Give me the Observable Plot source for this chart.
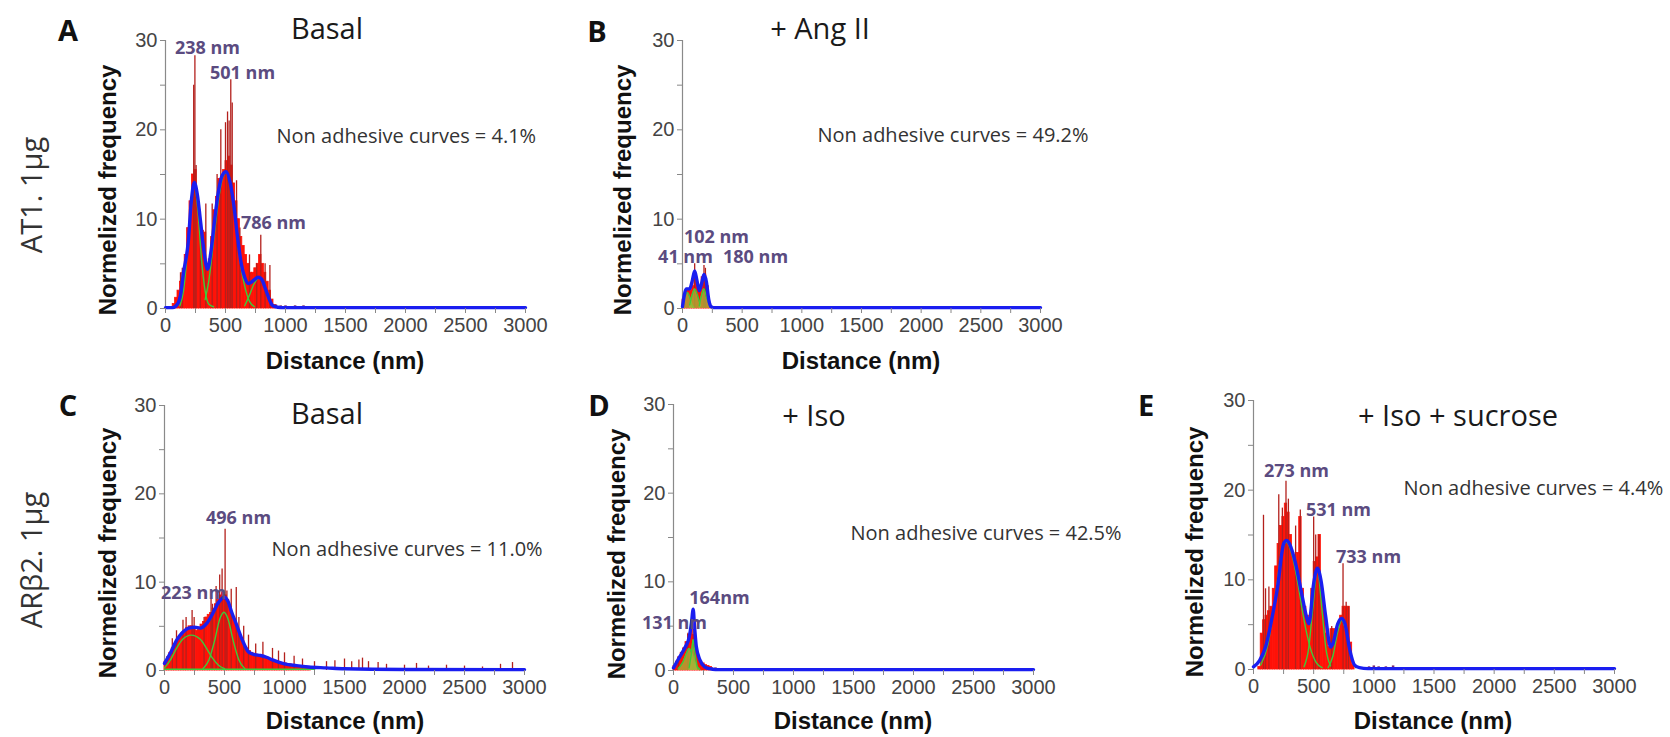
<!DOCTYPE html>
<html>
<head>
<meta charset="utf-8">
<script src="https://cdn.jsdelivr.net/npm/d3@7"></script>
<script src="https://cdn.jsdelivr.net/npm/@observablehq/plot@0.6"></script>
<style>
  html, body { margin: 0; padding: 0; background: #fff; }
  #wrap { position: relative; width: 1670px; height: 737px; overflow: hidden; background: #fff; }
  .lbl { position: absolute; white-space: nowrap; transform: translate(-50%, -50%); line-height: 1; }
</style>
</head>
<body>
<div id="wrap"></div>
<script>
// ---------- shared axis data ----------
const xTicks = [0, 250, 500, 750, 1000, 1250, 1500, 1750, 2000, 2250, 2500, 2750, 3000];
const yTicks = [0, 5, 10, 15, 20, 25, 30];
const binWidth = 20; // nm, histogram bin width

// ---------- Panel A : AT1 basal ----------
const histA = [[60,0.5],[80,1.2],[100,2],[120,3],[140,4],[160,6],[180,9],[200,12],[220,15],[240,15.5],[260,12],[280,9.5],[300,8.7],[320,8.5],[340,5],[360,5.5],[380,8],[400,11],[420,12.5],[440,14.5],[460,14.5],[480,15.5],[500,16.5],[520,17],[540,16],[560,14],[580,12],[600,10],[620,8],[640,7],[660,6],[680,5],[700,4],[720,4],[740,4.5],[760,5],[780,6],[800,5],[820,4],[840,3],[860,2],[880,1],[900,0.4]];
const spikesA = [[125,4],[140,4.5],[235,25],[245,28.3],[255,16],[290,11],[336,11.7],[389,11.7],[430,15],[461,20],[500,20.8],[517,22],[530,21],[544,25.6],[556,23],[592,14.3],[620,9],[700,6],[760,5],[794,8.2],[830,5],[870,4.8]];
const tailA = [[920,0.4],[960,0.3],[1000,0.3],[1040,0.2],[1080,0.3],[1120,0.2],[1150,0.3]];
const fitA = [[0,0.1],[60,0.1],[100,0.5],[125,1.5],[150,4],[190,7.5],[215,12],[240,14.1],[265,12.8],[290,10],[320,6.5],[350,4.4],[380,6.5],[410,10],[440,13],[470,14.8],[505,15.3],[540,14],[570,11.5],[600,8],[633,4.9],[660,3.5],[690,2.8],[730,3.1],[772,3.5],[800,3.3],[830,2.3],[860,1.2],[885,0.45],[911,0.2],[960,0.1],[3000,0.1]];
const compsA = [
  [[120,0.3],[150,2],[180,6],[210,11.5],[240,14],[270,11],[300,5.5],[330,2],[360,0.5],[400,0.2]],
  [[330,1],[360,3],[400,7.5],[440,12],[480,14.8],[505,15.2],[540,14],[580,10],[620,5.5],[660,2.5],[700,0.8],[740,0.2]],
  [[660,0.3],[700,1.5],[740,2.8],[786,3.5],[820,2.8],[860,1.2],[900,0.3]]
];
const peaksA = ["238 nm", "501 nm", "786 nm"];
const noteA = "Non adhesive curves = 4.1%";

// ---------- Panel B : AT1 + Ang II ----------
const histB = [[0,1],[20,2],[40,2.2],[60,2],[80,2.5],[100,3.5],[120,2.5],[140,2],[160,3.5],[180,3.8],[200,2.5],[220,0.5]];
const spikesB = [[102,5],[180,4.8],[192,4.5]];
const tailB = [];
const fitB = [[0,0.2],[15,1.5],[30,2.2],[60,2.2],[80,3],[102,4.2],[120,3.2],[140,2],[160,2.8],[180,3.8],[200,3],[220,1],[240,0.2],[260,0.1],[3000,0.1]];
const compsB = [
  [[0,0.2],[20,1.3],[41,1.8],[60,1.3],[80,0.4],[95,0.1]],
  [[60,0.4],[80,1.5],[102,2.2],[125,1.5],[150,0.3]],
  [[140,0.3],[160,1.5],[180,2.2],[200,1.3],[230,0.2]]
];
const peaksB = ["102 nm", "41 nm", "180 nm"];
const noteB = "Non adhesive curves = 49.2%";

// ---------- Panel C : ARβ2 basal ----------
const histC = [[0,1],[20,1.5],[40,2],[60,2.5],[80,3],[100,3.3],[120,3.8],[140,4.2],[160,4.5],[180,4.8],[200,5],[220,5],[240,4.8],[260,4.5],[280,4.8],[300,5.2],[320,5.5],[340,6],[360,6.3],[380,6.5],[400,7],[420,7.5],[440,8],[460,8.5],[480,8.8],[500,8.5],[520,8],[540,7.2],[560,6.2],[580,5.5],[600,4.6],[620,4],[640,3.4],[660,2.9],[680,2.5],[700,2.2],[720,2],[740,1.9],[760,1.8],[780,1.7],[800,1.6],[820,1.5],[840,1.4],[860,1.3],[880,1.2],[900,1.1],[920,1],[940,0.9],[960,0.9],[980,0.8],[1000,0.8],[1020,0.7],[1040,0.7],[1060,0.6],[1080,0.6],[1100,0.5],[1120,0.5],[1140,0.5],[1160,0.4],[1180,0.4],[1200,0.4]];
const spikesC = [[65,3.6],[100,4.5],[154,5.7],[180,6],[230,6.8],[247,6],[330,6],[388,8.1],[400,7.5],[430,9.5],[460,10.8],[480,11.5],[505,16],[520,9],[556,9.2],[598,9.4],[620,6],[660,5],[700,4],[760,3],[820,3.2],[900,2.5],[950,2.2],[1000,2],[1080,1.6],[1150,1.3],[1250,1],[1350,1],[1420,1.1],[1500,1.3],[1560,1],[1620,1.2],[1650,1.4],[1700,1],[1780,0.9],[1850,0.7],[2000,0.6],[2100,0.8],[2200,0.5],[2350,0.6],[2500,0.5],[2650,0.4],[2800,0.7],[2900,0.9]];
const tailC = [];
const fitC = [[0,0.8],[50,2],[100,3.4],[150,4.3],[200,4.8],[250,4.9],[300,4.8],[350,5.3],[400,6.4],[450,7.7],[496,8.3],[530,7.8],[560,6.6],[600,5.2],[650,3.4],[700,2.1],[750,1.8],[800,1.7],[850,1.5],[900,1.2],[1000,0.75],[1100,0.55],[1200,0.4],[1350,0.3],[1500,0.2],[2000,0.12],[3000,0.1]];
const compsC = [
  [[0,0.3],[50,1.2],[100,2.5],[150,3.5],[223,4],[300,3.5],[350,2.5],[400,1.4],[450,0.6],[500,0.2]],
  [[320,0.2],[370,1.2],[420,3.5],[460,5.8],[496,6.6],[530,5.8],[570,3.5],[620,1.2],[670,0.2]],
  [[0,0.15],[1250,0.15]]
];
const peaksC = ["496 nm", "223 nm"];
const noteC = "Non adhesive curves = 11.0%";

// ---------- Panel D : ARβ2 + Iso ----------
const histD = [[0,0.5],[20,1],[40,1.5],[60,2],[80,2.5],[100,3.2],[120,4],[140,4.6],[160,4],[180,2.5],[200,1.5],[220,1],[240,0.8],[260,0.6],[280,0.5],[300,0.4]];
const spikesD = [[40,1.5],[120,4.2],[164,7]];
const tailD = [[320,0.3],[350,0.3],[380,0.2],[420,0.2],[460,0.2],[500,0.15]];
const fitD = [[0,0.3],[50,1.5],[100,2.7],[130,3.7],[150,5.4],[164,6.9],[175,5],[190,2.7],[220,1.2],[260,0.4],[300,0.2],[350,0.1],[3000,0.1]];
const compsD = [
  [[40,0.2],[80,1],[110,2],[131,2.5],[150,2],[180,0.8],[220,0.1]],
  [[130,0.3],[150,2],[164,3.5],[178,2],[200,0.3]]
];
const peaksD = ["164nm", "131 nm"];
const noteD = "Non adhesive curves = 42.5%";

// ---------- Panel E : ARβ2 + Iso + sucrose ----------
const histE = [[40,0.3],[60,4],[80,5.5],[100,6],[120,6.5],[140,7],[160,9],[180,11.5],[200,14],[220,16],[240,17],[260,18.5],[280,17.5],[300,15],[320,13],[340,12],[360,13],[380,17],[400,9],[420,7],[440,6],[460,5.5],[480,9],[500,12],[520,12.5],[540,15],[560,9],[580,7],[600,4],[620,2.5],[640,4.5],[660,4.5],[680,4],[700,4.5],[720,6],[740,7],[760,7],[780,7],[800,3],[820,0.5]];
const spikesE = [[83,17.2],[100,9],[128,9.2],[210,19.5],[240,18],[270,21],[290,19],[350,16],[389,17.8],[500,17],[517,15],[544,15],[650,4.8],[744,11.8],[770,7.5],[790,7]];
const tailE = [[960,0.3],[1000,0.4],[1040,0.3],[1100,0.3],[1160,0.4]];
const fitE = [[0,0.3],[50,1],[100,2.5],[150,5.5],[200,9.2],[250,14],[273,14.4],[300,14],[350,11.8],[400,8.5],[440,5.9],[460,5.1],[500,9.6],[531,11.3],[560,10],[600,5.9],[640,2.5],[660,2.9],[700,5.1],[733,5.7],[760,5.1],[800,2.2],[840,0.5],[880,0.2],[950,0.1],[3000,0.1]];
const compsE = [
  [[60,0.5],[120,2.8],[180,8],[230,12.8],[273,14.2],[320,12.8],[370,9.5],[420,5.5],[470,2.5],[520,0.8],[570,0.2]],
  [[420,0.3],[460,2.5],[490,6.5],[531,11],[570,6.5],[600,2.5],[640,0.4]],
  [[620,0.2],[660,1.5],[700,4.2],[733,5.5],[770,4.2],[810,1.5],[850,0.2]]
];
const peaksE = ["273 nm", "531 nm", "733 nm"];
const noteE = "Non adhesive curves = 4.4%";

// ---------- text ----------
const panelLetters = ["A", "B", "C", "D", "E"];
const panelTitles = ["Basal", "+ Ang II", "Basal", "+ Iso", "+ Iso + sucrose"];
const rowLabels = ["AT1. 1µg", "ARβ2. 1µg"];
const xLabel = "Distance (nm)";
const yLabel = "Normelized frequency";

// ---------- layout (pixel frame of each plot, label anchors in data space) ----------
const layout = [
  {hist: histA, spikes: spikesA, tail: tailA, fit: fitA, comps: compsA, peaks: peaksA, note: noteA,
   x0: 165, x1: 525, yt: 40, yb: 308, peakAt: [[350,29.1],[642,26.3],[900,9.5]], noteAt: [925,19.2], compFill: false,
   letter: [68,29], title: [327,27], ylab: [108,190], xlab: [345,361]},
  {hist: histB, spikes: spikesB, tail: tailB, fit: fitB, comps: compsB, peaks: peaksB, note: noteB,
   x0: 682, x1: 1040, yt: 40, yb: 308, peakAt: [[285,7.95],[25,5.7],[612,5.7]], noteAt: [1131,19.4], compFill: true,
   letter: [597,30], title: [820,27], ylab: [623,190], xlab: [861,361]},
  {hist: histC, spikes: spikesC, tail: tailC, fit: fitC, comps: compsC, peaks: peaksC, note: noteC,
   x0: 164, x1: 524, yt: 405, yb: 670, peakAt: [[617,17.2],[242,8.7]], noteAt: [892,13.7], compFill: false,
   letter: [68,404], title: [327,412], ylab: [108,553], xlab: [345,721]},
  {hist: histD, spikes: spikesD, tail: tailD, fit: fitD, comps: compsD, peaks: peaksD, note: noteD,
   x0: 673, x1: 1033, yt: 404, yb: 670, peakAt: [[383,8.1],[8,5.3]], noteAt: [1475,15.4], compFill: true,
   letter: [599,404], title: [814,414], ylab: [617,554], xlab: [853,721]},
  {hist: histE, spikes: spikesE, tail: tailE, fit: fitE, comps: compsE, peaks: peaksE, note: noteE,
   x0: 1253, x1: 1614, yt: 400, yb: 669, peakAt: [[357,22.1],[706,17.8],[956,12.5]], noteAt: [1247,20.2], compFill: false,
   letter: [1146,404], title: [1458,414], ylab: [1195,552], xlab: [1433,721]}
];
const rowLabelAt = [[30,195],[30,560]];

const wrap = document.getElementById("wrap");

function addLabel(text, x, y, css, rotate) {
  const d = document.createElement("div");
  d.className = "lbl";
  d.textContent = text;
  d.style.left = x + "px";
  d.style.top = y + "px";
  Object.assign(d.style, css);
  if (rotate) d.style.transform = "translate(-50%, -50%) rotate(-90deg)";
  wrap.appendChild(d);
}

const ml = 60, mr = 10, mt = 10, mb = 40;
const fx = d => d[0], fy = d => d[1];

layout.forEach((p, i) => {
  const W = p.x1 - p.x0, H = p.yb - p.yt;
  const peakData = p.peaks.map((t, k) => ({t, x: p.peakAt[k][0], y: p.peakAt[k][1]}));
  const marks = [
    Plot.ruleX([0], {stroke: "#8a8a8a", strokeWidth: 1.2}),
    Plot.rectY(p.hist, {x1: fx, x2: d => d[0] + binWidth, y1: 0, y2: fy, fill: "#ff1208", stroke: "#ff1208", strokeWidth: 0.8, inset: 0}),
    Plot.ruleX(p.spikes, {x: fx, y1: 0, y2: fy, stroke: "#b3201c", strokeWidth: 1.3}),
    Plot.ruleX(p.tail, {x: fx, y1: 0, y2: fy, stroke: "#7b2d6e", strokeWidth: 2.5}),
  ];
  p.comps.forEach(c => {
    if (p.compFill) marks.push(Plot.areaY(c, {x: fx, y: fy, fill: "#a6b83a", fillOpacity: 0.75, curve: "monotone-x"}));
    marks.push(Plot.line(c, {x: fx, y: fy, stroke: "#3ccc3a", strokeWidth: 1.4, curve: "monotone-x"}));
  });
  marks.push(
    Plot.line(p.fit, {x: fx, y: fy, stroke: "#1a1ef0", strokeWidth: 3.4, curve: "monotone-x"}),
    Plot.axisX({ticks: xTicks, tickFormat: d => (d % 500 === 0 ? String(d) : ""), tickSize: 5, tickPadding: 4, stroke: "#888", fill: "#444", label: null}),
    Plot.axisY({ticks: yTicks, tickFormat: d => (d % 10 === 0 ? String(d) : ""), tickSize: 5, tickPadding: 3, stroke: "#888", fill: "#444", label: null}),
    Plot.text(peakData, {x: "x", y: "y", text: "t", fontFamily: "Open Sans", fontWeight: 700, fontSize: 18, fill: "#5b4b80"}),
    Plot.text([{t: p.note, x: p.noteAt[0], y: p.noteAt[1]}], {x: "x", y: "y", text: "t", textAnchor: "start", fontFamily: "Open Sans", fontSize: 20, fill: "#333"})
  );
  const svg = Plot.plot({
    width: W + ml + mr, height: H + mt + mb,
    marginLeft: ml, marginRight: mr, marginTop: mt, marginBottom: mb,
    x: {domain: [0, 3000]},
    y: {domain: [0, 30]},
    style: {fontFamily: "'Liberation Sans', Arial, sans-serif", fontSize: "20px", color: "#444", overflow: "visible", background: "transparent"},
    marks
  });
  svg.style.position = "absolute";
  svg.style.left = (p.x0 - ml) + "px";
  svg.style.top = (p.yt - mt) + "px";
  wrap.appendChild(svg);

  addLabel(panelLetters[i], p.letter[0], p.letter[1], {fontFamily: "'Open Sans'", fontWeight: 700, fontSize: "29px", color: "#111"});
  addLabel(panelTitles[i], p.title[0], p.title[1], {fontFamily: "'Open Sans'", fontSize: "29px", color: "#1a1a1a"});
  addLabel(yLabel, p.ylab[0], p.ylab[1], {fontFamily: "'Liberation Sans', Arial", fontWeight: 700, fontSize: "24px", color: "#111"}, true);
  addLabel(xLabel, p.xlab[0], p.xlab[1], {fontFamily: "'Liberation Sans', Arial", fontWeight: 700, fontSize: "24px", color: "#111"});
});

rowLabels.forEach((t, i) => addLabel(t, rowLabelAt[i][0], rowLabelAt[i][1], {fontFamily: "'Open Sans'", fontSize: "29px", color: "#333"}, true));
</script>
</body>
</html>
